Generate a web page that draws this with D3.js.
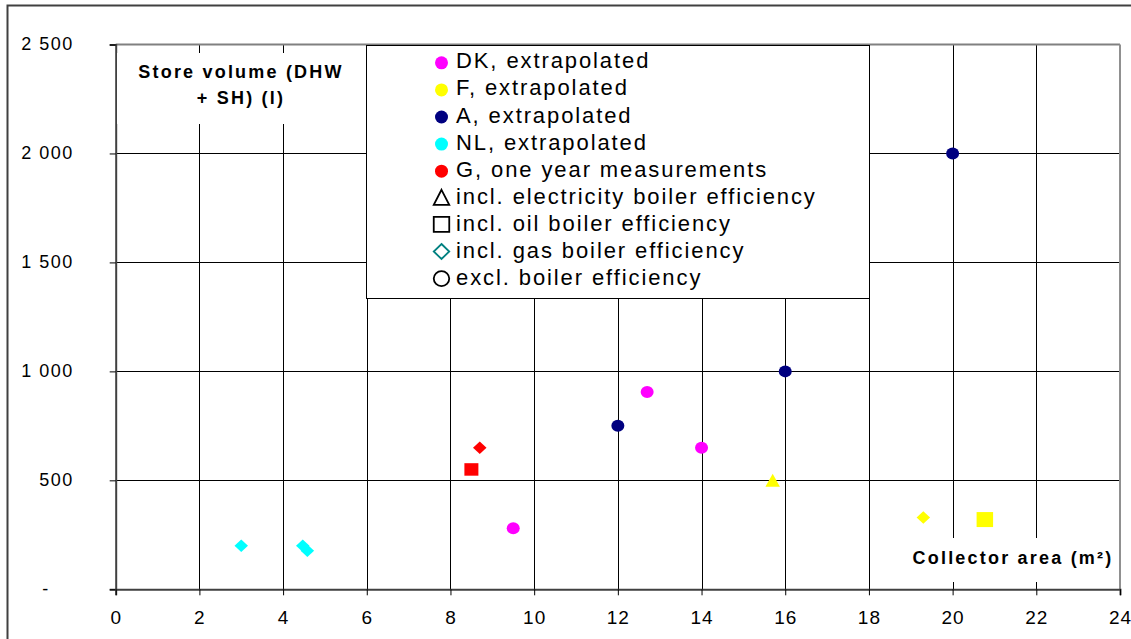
<!DOCTYPE html>
<html>
<head>
<meta charset="utf-8">
<script src="https://cdn.jsdelivr.net/npm/d3@7"></script>
<style>
  html, body { margin: 0; padding: 0; background: #fff; }
  svg { display: block; font-family: "Liberation Sans", Arial, sans-serif; }
</style>
</head>
<body>
<svg id="chart" width="1131" height="639"></svg>
<script>
// ---------- data ----------
const seriesNames = ["DK, extrapolated", "F, extrapolated", "A, extrapolated", "NL, extrapolated", "G, one year measurements"];
const seriesColors = ["#FF00FF", "#FFFF00", "#000080", "#00FFFF", "#FF0000"];
const shapeNames = ["incl. electricity boiler efficiency", "incl. oil boiler efficiency", "incl. gas boiler efficiency", "excl. boiler efficiency"];
const shapeKeys = ["triangle", "square", "diamond", "circle"];

// points: collector area (m²), store volume (l), series index, shape
const pointX      = [9.5, 12.7, 14.0, 15.7, 19.3, 20.77, 12.0, 16.0, 20.0, 3.0, 4.47, 4.58, 8.5, 8.7];
const pointY      = [280, 905, 650, 500, 330, 320, 750, 1000, 2000, 200, 200, 177, 550, 650];
const pointSeries = [0, 0, 0, 1, 1, 1, 2, 2, 2, 3, 3, 3, 4, 4];
const pointShape  = ["circle", "circle", "circle", "triangle", "diamond", "square", "circle", "circle", "circle", "diamond", "diamond", "diamond", "square", "diamond"];

const xTicks = [0, 2, 4, 6, 8, 10, 12, 14, 16, 18, 20, 22, 24];
const yTicks = [0, 500, 1000, 1500, 2000, 2500];
const yTickLabels = ["-", "500", "1 000", "1 500", "2 000", "2 500"];
const yAxisTitle = ["Store volume (DHW", "+ SH) (l)"];
const xAxisTitle = "Collector area (m²)";

// ---------- layout ----------
const svg = d3.select("#chart");
const x = d3.scaleLinear().domain([0, 24]).range([115.7, 1120]);
const y = d3.scaleLinear().domain([0, 2500]).range([589.3, 44.5]);

// outer frame
svg.append("rect").attr("x", 7.5).attr("y", 5.5).attr("width", 1140).attr("height", 700)
  .attr("fill", "#fff").attr("stroke", "#404040").attr("stroke-width", 2);

// gridlines
const g = svg.append("g");
g.selectAll("line.vg").data(xTicks.filter(t => t > 0 && t < 24)).join("line")
  .attr("x1", d => Math.round(x(d)) + 0.5).attr("x2", d => Math.round(x(d)) + 0.5)
  .attr("y1", y(2500)).attr("y2", y(0)).attr("stroke", "#000").attr("stroke-width", 1);
g.selectAll("line.hg").data(yTicks.filter(t => t > 0 && t < 2500)).join("line")
  .attr("y1", d => Math.round(y(d)) + 0.5).attr("y2", d => Math.round(y(d)) + 0.5)
  .attr("x1", x(0)).attr("x2", x(24)).attr("stroke", "#000").attr("stroke-width", 1);

// plot border (top, right) gray
svg.append("line").attr("x1", x(0)).attr("x2", x(24)).attr("y1", y(2500)).attr("y2", y(2500))
  .attr("stroke", "#808080").attr("stroke-width", 2);
svg.append("line").attr("x1", x(24)).attr("x2", x(24)).attr("y1", y(2500)).attr("y2", y(0))
  .attr("stroke", "#909090").attr("stroke-width", 2);

// axes
const yAxis = d3.axisLeft(y).tickValues(yTicks).tickSize(6).tickFormat((d, i) => yTickLabels[i]);
const ya = svg.append("g").attr("transform", `translate(${x(0)},0)`).call(yAxis);
ya.select(".domain").attr("stroke", "#404040").attr("stroke-width", 2);
ya.selectAll(".tick line").attr("stroke", "#000");
ya.selectAll(".tick text")
  .attr("font-family", "'Liberation Sans', Arial, sans-serif")
  .attr("font-size", 18).attr("fill", "#000")
  .style("letter-spacing", "1.5px")
  .attr("x", (d, i) => yTickLabels[i] === "-" ? -66 : -42)
  .attr("dy", "0.3em");

const xAxis = d3.axisBottom(x).tickValues(xTicks).tickSize(6).tickFormat(d3.format("d"));
const xa = svg.append("g").attr("transform", `translate(0,${y(0)})`).call(xAxis);
xa.select(".domain").attr("stroke", "#404040").attr("stroke-width", 2);
xa.selectAll(".tick line").attr("stroke", "#000");
xa.selectAll(".tick text")
  .attr("font-family", "'Liberation Sans', Arial, sans-serif")
  .attr("font-size", 19).attr("fill", "#000")
  .style("letter-spacing", "1px")
  .attr("y", 35).attr("dy", 0);

// ---------- marker shapes ----------
function shapePath(shape, w, h) {
  const a = w / 2, b = h / 2;
  if (shape === "circle") {
    return `M${-a},0 A${a},${b} 0 1,0 ${a},0 A${a},${b} 0 1,0 ${-a},0 Z`;
  } else if (shape === "square") {
    return `M${-a},${-b} L${a},${-b} L${a},${b} L${-a},${b} Z`;
  } else if (shape === "diamond") {
    return `M0,${-b} L${a},0 L0,${b} L${-a},0 Z`;
  } else {
    return `M0,${-b} L${a},${b} L${-a},${b} Z`;
  }
}
const markerSize = {
  circle: [13, 12], square: [14, 12.5], diamond: [13.5, 12.5], triangle: [14.5, 13]
};

// y-axis title box
svg.append("rect").attr("x", 117).attr("y", 53).attr("width", 247).attr("height", 71).attr("fill", "#fff");
svg.append("text").attr("x", 241).attr("font-size", 18).attr("font-weight", "bold")
  .attr("text-anchor", "middle").style("letter-spacing", "2.2px")
  .selectAll("tspan").data(yAxisTitle).join("tspan")
  .attr("x", 241).attr("y", (d, i) => 78.3 + i * 26).text(d => d);

// x-axis title box
svg.append("rect").attr("x", 900).attr("y", 538).attr("width", 219).attr("height", 44).attr("fill", "#fff");
svg.append("text").attr("x", 1013).attr("y", 563.5).attr("font-size", 18).attr("font-weight", "bold")
  .attr("text-anchor", "middle").style("letter-spacing", "2.2px").text(xAxisTitle);

// data points
const idx = d3.range(pointX.length);
svg.append("g").selectAll("path").data(idx).join("path")
  .attr("transform", i => `translate(${x(pointX[i])},${y(pointY[i])})`)
  .attr("d", i => {
    let s = markerSize[pointShape[i]];
    if (pointSeries[i] === 1 && pointShape[i] === "square") s = [16.5, 15];
    return shapePath(pointShape[i], s[0], s[1]);
  })
  .attr("fill", i => seriesColors[pointSeries[i]]);

// ---------- legend ----------
const lg = svg.append("g");
lg.append("rect").attr("x", 366.5).attr("y", 45.5).attr("width", 503).attr("height", 253)
  .attr("fill", "#fff").attr("stroke", "#000").attr("stroke-width", 1);
const rowBase = 68.3, rowStep = 27.1;
const legendItems = seriesNames.map((n, i) => ({ label: n, type: "series", i }))
  .concat(shapeNames.map((n, i) => ({ label: n, type: "shape", i })));
const rows = lg.selectAll("g.row").data(legendItems).join("g")
  .attr("transform", (d, k) => `translate(0,${rowBase + k * rowStep})`);
rows.append("path")
  .attr("transform", d => `translate(441.5,${d.type === "series" ? -5.5 : -6.5})`)
  .attr("d", d => d.type === "series" ? shapePath("circle", 13, 13) : shapePath(shapeKeys[d.i], 15.5, 15))
  .attr("fill", d => d.type === "series" ? seriesColors[d.i] : "none")
  .attr("stroke", d => d.type === "series" ? "none" : (shapeKeys[d.i] === "diamond" ? "#008080" : "#000"))
  .attr("stroke-width", 1.8);
rows.append("text").attr("x", 456).attr("y", 0).attr("font-size", 22)
  .style("letter-spacing", "1.9px").attr("fill", "#000").text(d => d.label);
</script>
</body>
</html>
